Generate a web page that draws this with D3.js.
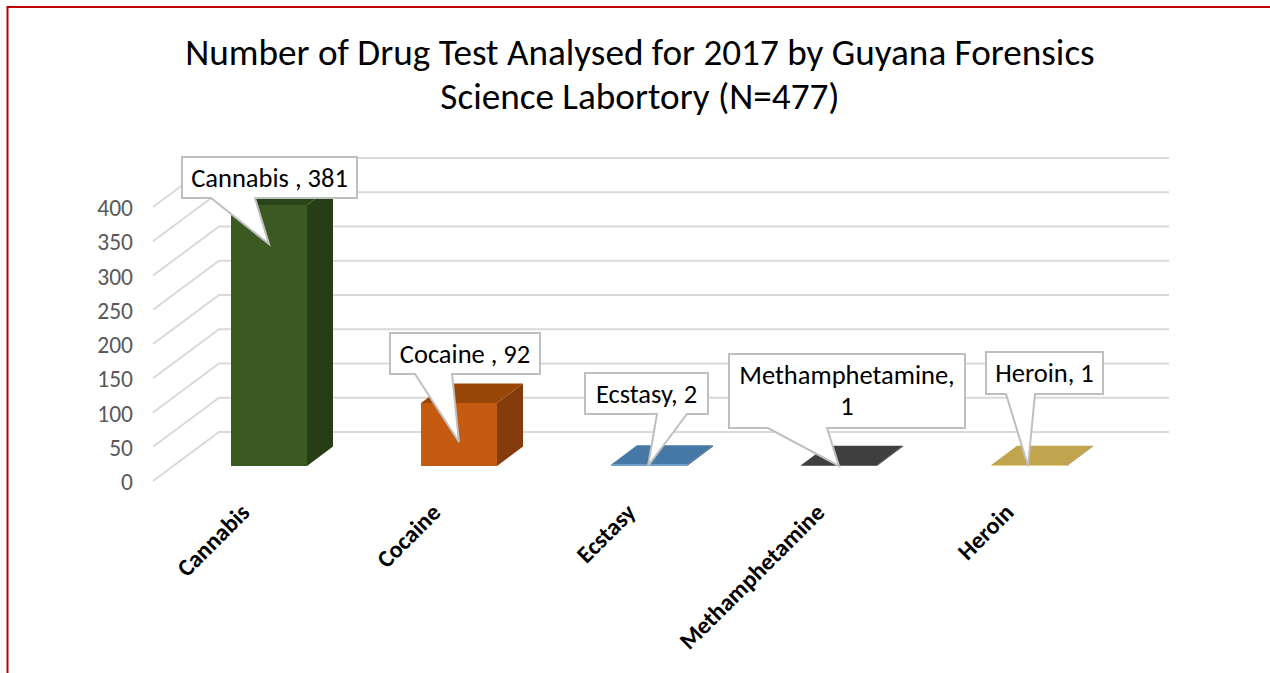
<!DOCTYPE html>
<html><head><meta charset="utf-8"><script src="https://cdn.jsdelivr.net/npm/d3@7"></script>
<style>html,body{margin:0;padding:0;background:#fff}svg{display:block}</style></head><body>
<svg id="c" width="1270" height="673"></svg>
<script>
const categories=["Cannabis","Cocaine","Ecstasy","Methamphetamine","Heroin"];
const values=[381,92,2,1,1];
const frontColors=["#3a5a22","#c55a11","#6fa3d6","#3f3f3f","#e6c665"];
const sideColors=["#263d16","#843c0c","#35587a","#2b2b2b","#8c7535"];
const topColors=["#2b4319","#994709","#4678a6","#3f3f3f","#c1a44e"];
const ticks=[0,50,100,150,200,250,300,350,400];
const titleLines=["Number of Drug Test Analysed for 2017 by Guyana Forensics","Science Labortory (N=477)"];
const calloutLines=[["Cannabis , 381"],["Cocaine , 92"],["Ecstasy, 2"],["Methamphetamine,","1"],["Heroin, 1"]];
const calloutBoxes=[[182,157,357,198],[390,333,540,374],[585,373,708,414],[729,354,965,428],[986,352,1103,394]];
const calloutPointers=[[211,255,269,244],[415,452,459,442],[657,687,648,466],[768,827,839,466],[1006,1035,1028,466]];
const xLabelEnds=[[251,514],[442,514],[637,514],[826,514],[1015,514]];
const svg=d3.select("#c");
const font="Carlito, Calibri, 'Open Sans', sans-serif";
svg.append("path").attr("d","M7.5 673V7H1270").attr("fill","none").attr("stroke","#c00000").attr("stroke-width",2);
svg.selectAll(".t").data(titleLines).join("text").attr("x",640).attr("y",(d,i)=>65+i*44).attr("text-anchor","middle")
 .attr("font-family",font).attr("font-size",37.2).attr("fill","#000").text(d=>d);
const y=d3.scaleLinear().domain([0,400]).range([0,274]);
const x=d3.scaleBand().domain(categories).range([174,1124]);
const barW=76, dx=26, dy=19.5;
const backX=219, backY=432, frontX=153, frontY=481, rightX=1169;
const g=svg.append("g");
g.selectAll(".g").data(ticks).join("path").attr("fill","none").attr("stroke","#d9d9d9").attr("stroke-width",2)
 .attr("d",d=>`M${frontX} ${frontY-y(d)}L${backX} ${backY-y(d)}H${rightX}`);
g.selectAll(".l").data(ticks).join("text").attr("x",133).attr("y",d=>frontY-y(d)+9).attr("text-anchor","end")
 .attr("font-family",font).attr("font-size",23.5).attr("fill","#595959").text(d=>d);
const base=466;
categories.forEach((c,i)=>{
 const l=x(c)+(x.bandwidth()-barW)/2, r=l+barW, h=y(values[i]), t=base-h;
 g.append("path").attr("fill",sideColors[i]).attr("d",`M${r} ${base}L${r+dx} ${base-dy}V${t-dy}L${r} ${t}Z`);
 g.append("path").attr("fill",topColors[i]).attr("d",`M${l} ${t}L${l+dx} ${t-dy}H${r+dx}L${r} ${t}Z`);
 g.append("rect").attr("x",l).attr("y",t).attr("width",barW).attr("height",h).attr("fill",frontColors[i]);
 const [lx,ly]=xLabelEnds[i];
 g.append("text").attr("transform",`translate(${lx},${ly}) rotate(-45)`)
  .attr("text-anchor","end").attr("font-family",font).attr("font-size",24).attr("font-weight",700).attr("fill","#000").text(c);
});
categories.forEach((c,i)=>{
 const [x0,y0,x1,y1]=calloutBoxes[i],[a,b,px,py]=calloutPointers[i];
 g.append("path").attr("fill","#fff").attr("stroke","#bfbfbf").attr("stroke-width",2)
  .attr("d",`M${x0} ${y0}H${x1}V${y1}H${b}L${px} ${py}L${a} ${y1}H${x0}Z`);
 calloutLines[i].forEach((s,k)=>g.append("text").attr("x",(x0+x1)/2).attr("y",y0+30+k*31).attr("text-anchor","middle")
  .attr("font-family",font).attr("font-size",26.5).attr("fill","#000").text(s));
});
</script></body></html>
